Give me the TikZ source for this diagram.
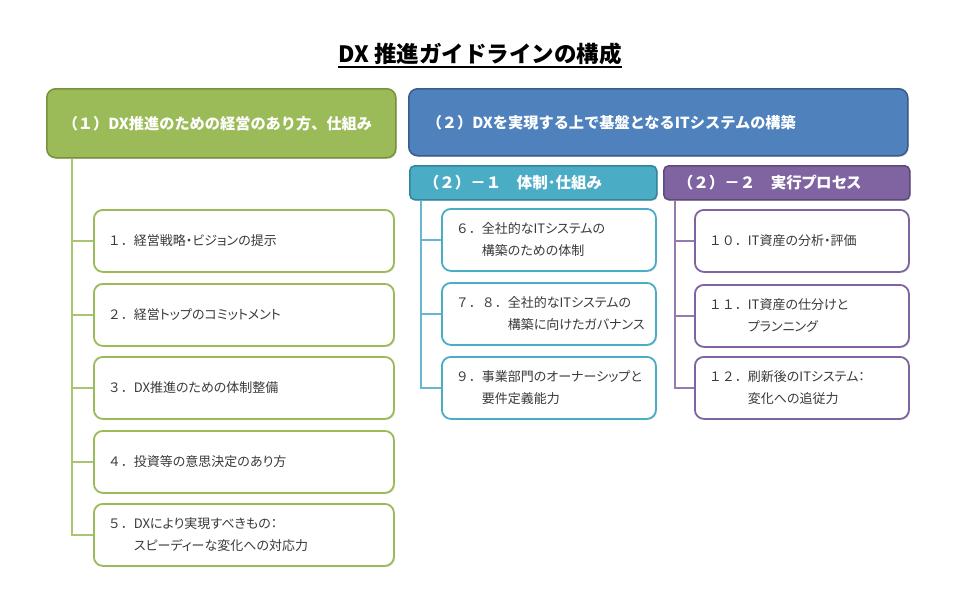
\documentclass[tikz,border=0pt]{standalone}
\usepackage{fontspec}
\setmainfont{Noto Sans CJK JP}
\newfontfamily\pfont[RawFeature=+palt]{Noto Sans CJK JP}
\usetikzlibrary{shadows}
\definecolor{gfill}{HTML}{9BBB59}
\definecolor{gdark}{HTML}{76923C}
\definecolor{bfill}{HTML}{4F81BD}
\definecolor{bdark}{HTML}{385D8A}
\definecolor{tfill}{HTML}{4BACC6}
\definecolor{tdark}{HTML}{31859C}
\definecolor{pfill}{HTML}{8064A2}
\definecolor{pdark}{HTML}{5F497A}
\definecolor{txt}{HTML}{3A3A3A}
\tikzset{
  hdr/.style={rectangle, rounded corners=9pt, line width=1.5pt, anchor=north west,
    text=white, font=\fontsize{15.2}{17}\selectfont\bfseries, align=left,
    drop shadow={opacity=0.25, shadow xshift=1.2pt, shadow yshift=-1.2pt}},
  subhdr/.style={hdr, rounded corners=5pt, minimum height=34pt, inner xsep=14pt,
    font=\fontsize{15.5}{18}\selectfont\bfseries},
  itembox/.style={rectangle, rounded corners=9pt, line width=1.8pt, fill=white, anchor=north west,
    text=txt, font=\fontsize{13}{22}\selectfont, align=left, inner xsep=14pt,
    drop shadow={opacity=0.18, shadow xshift=1.2pt, shadow yshift=-1.2pt}},
  gbox/.style={itembox, draw=gfill, text width=272pt, minimum height=62pt},
  tbox/.style={itembox, draw=tfill, text width=186pt, minimum height=62pt},
  pbox/.style={itembox, draw=pfill, text width=186pt, minimum height=62pt},
  gline/.style={draw=gfill!85, line width=2.6pt},
  tline/.style={draw=tfill!85, line width=2.6pt},
  pline/.style={draw=pfill!85, line width=2.6pt},
}
\newcommand{\oneline}[2]{#1{\pfont #2}}
\newcommand{\twoline}[3]{\begin{tabular}{@{}l@{}l@{}}#1&{\pfont #2}\\&{\pfont #3}\end{tabular}}
\begin{document}
\begin{tikzpicture}[x=1pt,y=-1pt]
\useasboundingbox[fill=white] (0,0) rectangle (960,610);
% title
\node[inner sep=0pt, font=\fontsize{22.5}{24}\selectfont\bfseries, text=black] (title) at (480,54) {DX 推進ガイドラインの構成};
\draw[line width=1.6pt] ([yshift=-4.5pt]title.base west) -- ([yshift=-4.5pt]title.base east);
% headers
\node[hdr, fill=gfill, draw=gdark, minimum width=349pt, minimum height=69pt, text width=317pt, inner xsep=16pt] (h1) at (46,88) {（１）DX推進のための経営のあり方、仕組み};
\node[hdr, fill=bfill, draw=bdark, minimum width=499pt, minimum height=67pt, text width=463pt, inner xsep=18pt] (h2) at (408,88) {（２）DXを実現する上で基盤となるITシステムの構築};
\node[subhdr, fill=tfill, draw=tdark, minimum width=247pt, text width=219pt] (h21) at (409,165) {（２）－１　{\pfont 体制･仕組み}};
\node[subhdr, fill=pfill, draw=pdark, minimum width=246pt, text width=218pt] (h22) at (663,165) {（２）－２　{\pfont 実行プロセス}};
% green items
\node[gbox] (b1) at (93,209) {\oneline{１．}{経営戦略・ビジョンの提示}};
\node[gbox] (b2) at (93,283) {\oneline{２．}{経営トップのコミットメント}};
\node[gbox] (b3) at (93,356) {\oneline{３．}{DX推進のための体制整備}};
\node[gbox] (b4) at (93,430) {\oneline{４．}{投資等の意思決定のあり方}};
\node[gbox] (b5) at (93,503) {\twoline{５．}{DXにより実現すべきもの：}{スピーディーな変化への対応力}};
% teal items
\node[tbox] (b6) at (441,208) {\twoline{６．}{全社的なITシステムの}{構築のための体制}};
\node[tbox] (b7) at (441,282) {\twoline{７．８．}{全社的なITシステムの}{構築に向けたガバナンス}};
\node[tbox] (b9) at (441,356) {\twoline{９．}{事業部門のオーナーシップと}{要件定義能力}};
% purple items
\node[pbox] (b10) at (694,209) {\oneline{１０．}{IT資産の分析・評価}};
\node[pbox] (b11) at (694,284) {\twoline{１１．}{IT資産の仕分けと}{プランニング}};
\node[pbox] (b12) at (694,356) {\twoline{１２．}{刷新後のITシステム：}{変化への追従力}};
% connector trunks
\coordinate (g0) at ([xshift=26pt]h1.south west);
\coordinate (t0) at ([xshift=12pt]h21.south west);
\coordinate (p0) at ([xshift=12pt]h22.south west);
\draw[gline] (g0) |- (b5.west);
\foreach \b in {b1,b2,b3,b4} \draw[gline] (\b.west) -- (\b.west -| g0);
\draw[tline] (t0) |- (b9.west);
\foreach \b in {b6,b7} \draw[tline] (\b.west) -- (\b.west -| t0);
\draw[pline] (p0) |- (b12.west);
\foreach \b in {b10,b11} \draw[pline] (\b.west) -- (\b.west -| p0);
\end{tikzpicture}
\end{document}
